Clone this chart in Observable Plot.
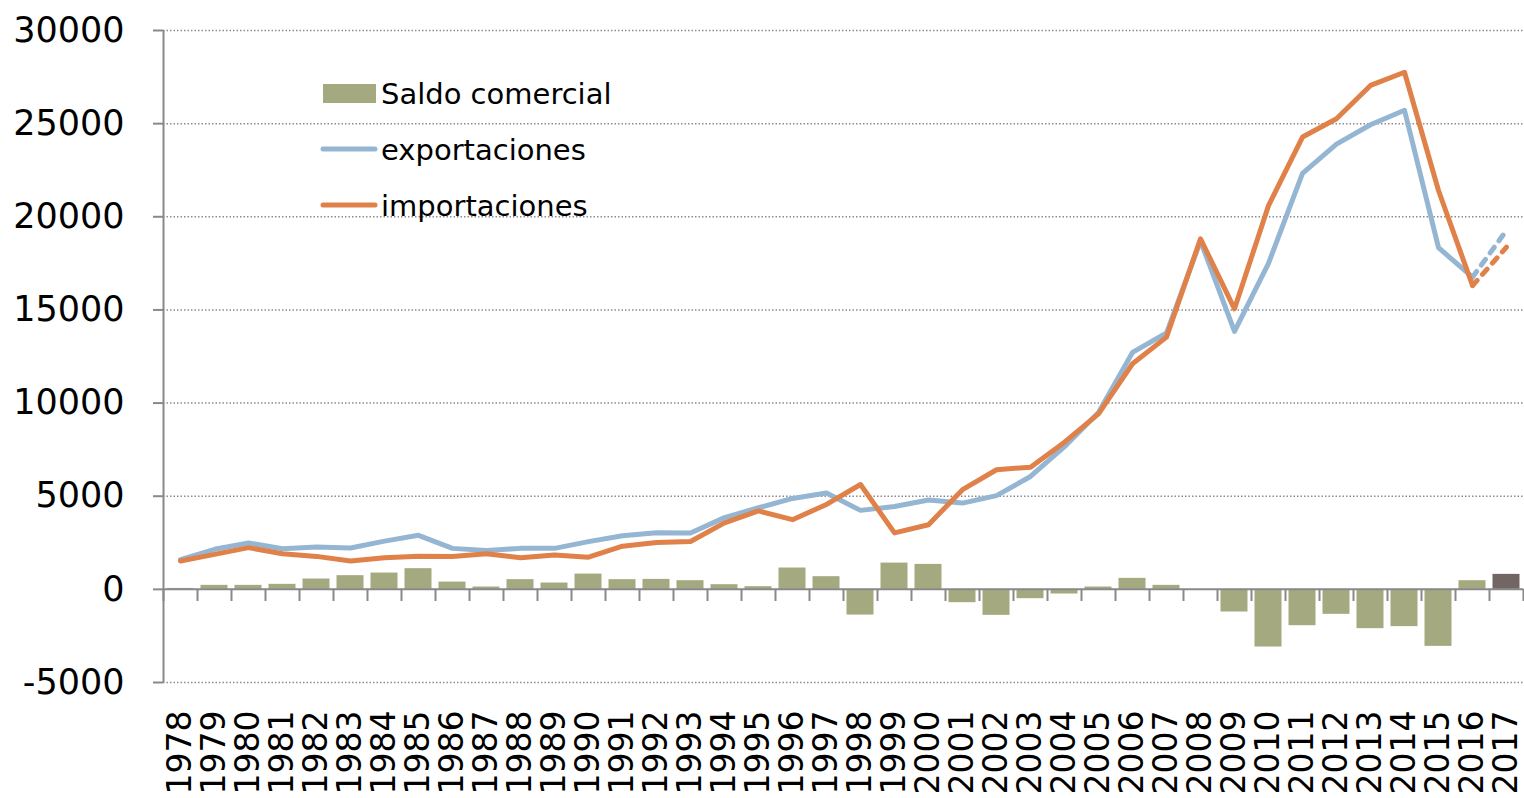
<!DOCTYPE html>
<html>
<head>
<meta charset="utf-8">
<script src="https://cdn.jsdelivr.net/npm/d3@7"></script>
<script src="https://cdn.jsdelivr.net/npm/@observablehq/plot@0.6"></script>
<style>
  body { margin: 0; background: #fff; }
  #wrap { position: relative; width: 1524px; height: 798px; overflow: hidden; background: #fff; }
  #legend { position: absolute; left: 0; top: 0; pointer-events: none; }
  g[aria-label^="y-axis"] line, g[aria-label^="y-axis"] path { stroke: #898989; stroke-width: 2px; }
  g[aria-label^="x-axis"] text { font-size: 33px; }
</style>
</head>
<body>
<div id="wrap"></div>
<script>
// ---- data ----
const years = [1978,1979,1980,1981,1982,1983,1984,1985,1986,1987,1988,1989,1990,1991,1992,1993,1994,1995,1996,1997,1998,1999,2000,2001,2002,2003,2004,2005,2006,2007,2008,2009,2010,2011,2012,2013,2014,2015,2016,2017];
const exportaciones = [1600,2150,2490,2180,2270,2220,2590,2900,2200,2090,2200,2200,2560,2880,3040,3020,3850,4380,4880,5170,4240,4450,4800,4630,5030,6060,7660,9500,12720,13760,18700,13850,17500,22330,23900,24940,25720,18340,16760,19270];
const importaciones = [1520,1880,2240,1915,1770,1520,1700,1780,1770,1915,1700,1840,1730,2320,2510,2570,3570,4210,3740,4560,5630,3030,3470,5350,6420,6560,7900,9420,12110,13540,18820,15060,20600,24280,25260,27050,27760,21410,16310,18370];
const saldo = [50,215,215,270,555,735,875,1110,390,125,520,340,820,520,535,465,250,145,1145,680,-1380,1410,1340,-715,-1395,-500,-250,125,590,215,0,-1215,-3095,-1950,-1340,-2110,-2000,-3060,465,805];
const yTicks = [-5000,0,5000,10000,15000,20000,25000,30000];
const seriesNames = ["Saldo comercial","exportaciones","importaciones"];
const estimateYear = "2017";   // last year (estimate): dark bar, dashed lines
const splitYear = "2016";

// ---- styles ----
const olive = "#a5a97f", dark = "#726665", blue = "#95b6d3", orange = "#df8148", axisGray = "#898989";

const rows = years.map((y, i) => ({year: String(y), exp: exportaciones[i], imp: importaciones[i], saldo: saldo[i]}));
const solidRows = rows.filter(d => +d.year <= +splitYear);
const dashRows = rows.filter(d => +d.year >= +splitYear);

const W = 1524, H = 798, mL = 163, mR = 1, mT = 30, mB = 116;
const step = (W - mL - mR) / years.length;

const chart = Plot.plot({
  width: W, height: H,
  marginLeft: mL, marginRight: mR, marginTop: mT, marginBottom: mB,
  style: {fontFamily: "DejaVu Sans, sans-serif", fontSize: "35px", color: "#000", background: "#fff", overflow: "visible"},
  x: {type: "band", domain: rows.map(d => d.year), padding: 0, tickRotate: -90, tickSize: 0, tickPadding: 28, label: null},
  y: {domain: [-5000, 30000], ticks: yTicks, tickSize: 10, tickPadding: 29, tickFormat: d => String(d), label: null},
  marks: [
    Plot.ruleY(yTicks.filter(d => d !== 0), {stroke: "#8c8c8c", strokeWidth: 1.5, strokeDasharray: "1.5,2"}),
    Plot.barY(rows.filter(d => d.year !== estimateYear), {x: "year", y: "saldo", fill: olive, insetLeft: 3.5, insetRight: 3.5}),
    Plot.barY(rows.filter(d => d.year === estimateYear), {x: "year", y: "saldo", fill: dark, insetLeft: 3.5, insetRight: 3.5}),
    Plot.ruleY([0], {stroke: axisGray, strokeWidth: 2}),
    Plot.ruleX(rows, {x: "year", y1: 0, y2: -650, dx: -step / 2, stroke: axisGray, strokeWidth: 2}),
    Plot.ruleX([rows[rows.length - 1]], {x: "year", y1: 0, y2: -650, dx: step / 2, stroke: axisGray, strokeWidth: 2}),
    Plot.ruleX([rows[0]], {x: "year", dx: -step / 2, stroke: axisGray, strokeWidth: 2}),
    Plot.line(solidRows, {x: "year", y: "exp", stroke: blue, strokeWidth: 5, strokeLinejoin: "round", strokeLinecap: "round"}),
    Plot.line(dashRows, {x: "year", y: "exp", stroke: blue, strokeWidth: 5, strokeDasharray: "7,8", strokeLinecap: "round"}),
    Plot.line(solidRows, {x: "year", y: "imp", stroke: orange, strokeWidth: 5, strokeLinejoin: "round", strokeLinecap: "round"}),
    Plot.line(dashRows, {x: "year", y: "imp", stroke: orange, strokeWidth: 5, strokeDasharray: "7,8", strokeLinecap: "round"})
  ]
});
document.getElementById("wrap").appendChild(chart);

// ---- legend (overlay) ----
const leg = d3.select("#wrap").append("svg").attr("id", "legend").attr("width", W).attr("height", H);
const g = leg.append("g").attr("font-family", "DejaVu Sans, sans-serif").attr("font-size", 29).attr("fill", "#000");
g.append("rect").attr("x", 323).attr("y", 84).attr("width", 53).attr("height", 19).attr("fill", olive);
g.append("text").attr("x", 381).attr("y", 104).text(seriesNames[0]);
g.append("line").attr("x1", 323).attr("x2", 375).attr("y1", 149).attr("y2", 149).attr("stroke", blue).attr("stroke-width", 5).attr("stroke-linecap", "round");
g.append("text").attr("x", 381).attr("y", 160).text(seriesNames[1]);
g.append("line").attr("x1", 323).attr("x2", 375).attr("y1", 205).attr("y2", 205).attr("stroke", orange).attr("stroke-width", 5).attr("stroke-linecap", "round");
g.append("text").attr("x", 381).attr("y", 216).text(seriesNames[2]);
</script>
</body>
</html>
